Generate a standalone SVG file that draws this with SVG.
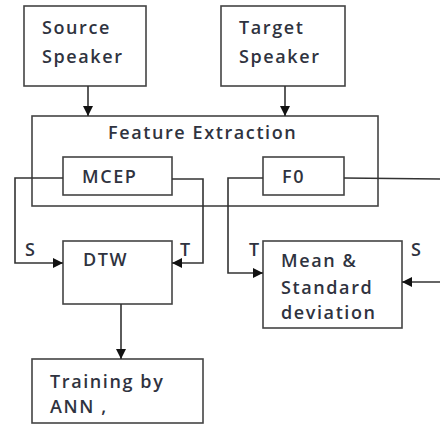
<svg xmlns="http://www.w3.org/2000/svg" width="440" height="427" viewBox="0 0 440 427">
<defs>
<marker id="ah" viewBox="0 0 10 10" refX="10" refY="5" markerWidth="10" markerHeight="10" markerUnits="userSpaceOnUse" orient="auto">
<path d="M0,0 L10,5 L0,10 z" fill="#111"/>
</marker>
<style>
.box{fill:#fff;stroke:#444;stroke-width:1.6}
.txt{font-family:"Open Sans","Noto Sans",sans-serif;font-size:18px;font-weight:600;fill:#2f3340;letter-spacing:1.6px}
.c{fill:none;stroke:#333;stroke-width:1.6}
</style>
</defs>
<rect width="440" height="427" fill="#fff"/>
<g id="source">
<rect class="box" x="24" y="6" width="122" height="80"/>
<text class="txt" x="42" y="34">Source</text>
<text class="txt" x="42" y="63">Speaker</text>
</g>
<g id="target">
<rect class="box" x="221" y="6" width="124" height="80"/>
<text class="txt" x="239" y="34">Target</text>
<text class="txt" x="239" y="63">Speaker</text>
</g>
<g id="feature">
<rect class="box" x="32" y="116" width="346" height="90" style="fill:none"/>
<text class="txt" x="108" y="139">Feature Extraction</text>
</g>
<g id="mcep">
<rect class="box" x="63" y="157" width="109" height="38"/>
<text class="txt" x="82" y="183">MCEP</text>
</g>
<g id="f0">
<rect class="box" x="263" y="157" width="81" height="38"/>
<text class="txt" x="282" y="183">F0</text>
</g>
<g id="dtw">
<rect class="box" x="63" y="241" width="109" height="63"/>
<text class="txt" x="83" y="266">DTW</text>
</g>
<g id="mean">
<rect class="box" x="263" y="241" width="139" height="87"/>
<text class="txt" x="281" y="267">Mean &amp;</text>
<text class="txt" x="281" y="294">Standard</text>
<text class="txt" x="281" y="319">deviation</text>
</g>
<g id="training">
<rect class="box" x="32" y="359" width="171" height="64"/>
<text class="txt" x="50" y="388">Training by</text>
<text class="txt" x="50" y="413">ANN ,</text>
</g>
<g id="connectors">
<line class="c" x1="88" y1="86" x2="88" y2="116" marker-end="url(#ah)"/>
<line class="c" x1="285" y1="86" x2="285" y2="116" marker-end="url(#ah)"/>
<polyline class="c" points="63,178 15,178 15,263 63,263" marker-end="url(#ah)"/>
<polyline class="c" points="172,179 203,179 203,263 172,263" marker-end="url(#ah)"/>
<polyline class="c" points="263,178 228,178 228,273 263,273" marker-end="url(#ah)"/>
<line class="c" x1="344" y1="178" x2="440" y2="179"/>
<line class="c" x1="440" y1="282" x2="402" y2="282" marker-end="url(#ah)"/>
<line class="c" x1="121" y1="304" x2="121" y2="359" marker-end="url(#ah)"/>
<text class="txt" x="25" y="256">S</text>
<text class="txt" x="180" y="256">T</text>
<text class="txt" x="249" y="256">T</text>
<text class="txt" x="411" y="256">S</text>
</g>
</svg>
